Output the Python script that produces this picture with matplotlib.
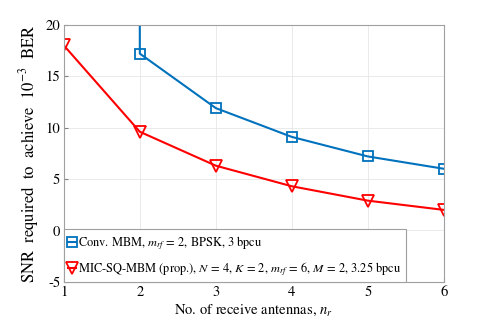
import numpy as np
import matplotlib
matplotlib.use('Agg')
import matplotlib.pyplot as plt

plt.rcParams['font.family'] = 'STIXGeneral'
plt.rcParams['mathtext.fontset'] = 'stix'

nr = [1, 2, 3, 4, 5, 6]
snr_conv = [5000.0, 17.2, 11.9, 9.1, 7.2, 6.0]
snr_prop = [18.0, 9.6, 6.3, 4.3, 2.9, 2.0]

lab_conv = r'Conv. MBM, $m_{rf}\,=\,2$, BPSK, 3 bpcu'
lab_prop = (r'MIC-SQ-MBM (prop.), $N\,=\,4$, $K\,=\,2$, $m_{rf}\,=\,6$, '
            r'$M\,=\,2$, 3.25 bpcu')

fig = plt.figure(figsize=(4.91, 3.27), dpi=100)
ax = fig.add_axes([0.130, 0.138, 0.774, 0.786])

ax.plot(nr, snr_conv, '-s', color='#0072BD', lw=1.5, ms=6.5,
        mfc='none', mew=1.3, label=lab_conv)
ax.plot(nr, snr_prop, '-v', color='#FF0000', lw=1.5, ms=8.5,
        mfc='none', mew=1.3, label=lab_prop)

ax.set_xlim(1, 6)
ax.set_ylim(-5, 20)
ax.set_xticks(range(1, 7))
ax.set_yticks(range(-5, 21, 5))
ax.set_yticklabels(['-5', '0', '5', '10', '15', '20'])
ax.grid(True, color='#e6e6e6', lw=0.6)
ax.tick_params(direction='in', labelsize=10.5, length=3, pad=2.5,
               color='#808080')
for s in ax.spines.values():
    s.set_color('#a0a0a0')
    s.set_linewidth(0.8)

ax.set_xlabel(r'No. of receive antennas, $n_r$', fontsize=10.5, labelpad=3)
ax.set_ylabel(r'SNR  required  to  achieve  $10^{-3}$  BER', fontsize=12)
ax.yaxis.set_label_coords(-0.06, 0.5)

leg = ax.legend(loc='lower left', fontsize=8.9, handlelength=0.6,
                handletextpad=0.2, borderpad=0.35, borderaxespad=0.0,
                labelspacing=0.65, fancybox=False, framealpha=1)
leg.get_frame().set_edgecolor('#a0a0a0')
leg.get_frame().set_linewidth(0.8)

fig.savefig('out.png', dpi=100)
